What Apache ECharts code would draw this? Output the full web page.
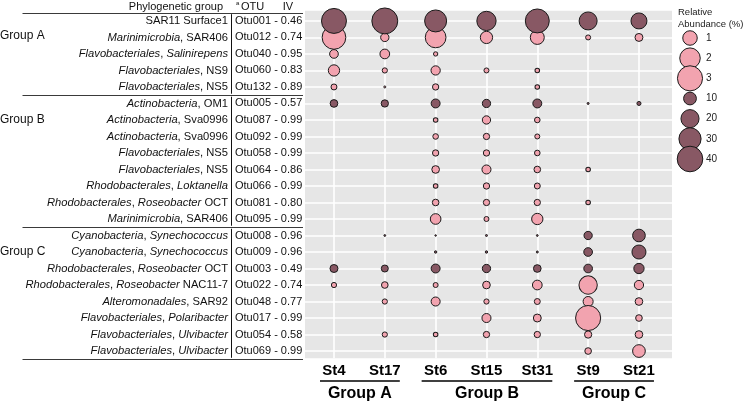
<!DOCTYPE html>
<html><head><meta charset="utf-8">
<script src="https://cdn.jsdelivr.net/npm/echarts@6/dist/echarts.min.js"></script>
<style>html,body{margin:0;padding:0;background:#fff}#c{width:743px;height:402px}</style>
</head><body><div id="c"></div>
<script>
// ---------- data ----------
const stations = ['St4','St17','St6','St15','St31','St9','St21'];
const stationGroups = ['Group A','Group A','Group B','Group B','Group B','Group C','Group C'];
const taxa = [
  'SAR11 Surface1',
  '*Marinimicrobia*, SAR406',
  '*Flavobacteriales*, *Salinirepens*',
  '*Flavobacteriales*, NS9',
  '*Flavobacteriales*, NS5',
  '*Actinobacteria*, OM1',
  '*Actinobacteria*, Sva0996',
  '*Actinobacteria*, Sva0996',
  '*Flavobacteriales*, NS5',
  '*Flavobacteriales*, NS5',
  '*Rhodobacterales*, *Loktanella*',
  '*Rhodobacterales*, *Roseobacter* OCT',
  '*Marinimicrobia*, SAR406',
  '*Cyanobacteria*, *Synechococcus*',
  '*Cyanobacteria*, *Synechococcus*',
  '*Rhodobacterales*, *Roseobacter* OCT',
  '*Rhodobacterales*, *Roseobacter* NAC11-7',
  '*Alteromonadales*, SAR92',
  '*Flavobacteriales*, *Polaribacter*',
  '*Flavobacteriales*, *Ulvibacter*',
  '*Flavobacteriales*, *Ulvibacter*'
];
const otus = ['Otu001','Otu012','Otu040','Otu060','Otu132','Otu005','Otu087','Otu092','Otu058','Otu064','Otu066','Otu081','Otu095','Otu008','Otu009','Otu003','Otu022','Otu048','Otu017','Otu054','Otu069'];
const iv = ['0.46','0.74','0.95','0.83','0.89','0.57','0.99','0.99','0.99','0.86','0.99','0.80','0.99','0.96','0.96','0.49','0.74','0.77','0.99','0.58','0.99'];
const rowGroups = ['Group A','Group A','Group A','Group A','Group A','Group B','Group B','Group B','Group B','Group B','Group B','Group B','Group B','Group C','Group C','Group C','Group C','Group C','Group C','Group C','Group C'];
const darkOtus = ['Otu001','Otu005','Otu008','Otu009','Otu003'];
// relative abundance (%) per OTU row, columns follow `stations`; null = absent
const abundanceGroupA = [
  [38, 41, 29.5, 22.7, 35, 19.8, 15.6],
  [2.67, 0.33, 2.04, 0.72, 0.93, 0.12, 0.30],
  [0.36, 0.45, 0.09, null, null, null, null],
  [0.61, 0.13, 0.41, 0.12, 0.10, null, null],
  [0.17, 0.02, 0.19, null, 0.10, null, null]
];
const abundanceGroupB = [
  [3.6, 3.25, 4.9, 4.2, 4.9, 0.25, 1.0],
  [null, null, 0.10, 0.33, 0.15, null, null],
  [null, null, 0.15, 0.19, 0.12, null, null],
  [null, null, 0.19, 0.19, 0.15, null, null],
  [null, null, 0.28, 0.39, 0.21, 0.10, null],
  [null, null, 0.10, 0.19, 0.17, null, null],
  [null, null, 0.21, 0.19, 0.19, 0.10, null],
  [null, null, 0.54, 0.12, 0.61, null, null]
];
const abundanceGroupC = [
  [null, 0.2, 0.15, 0.25, 0.2, 4.2, 9.8],
  [null, null, 0.35, 0.35, 0.25, 4.6, 12],
  [3.9, 3.0, 4.9, 4.2, 3.6, 4.6, 6.5],
  [0.13, 0.21, 0.12, 0.28, 0.45, 1.6, 0.41],
  [null, 0.13, 0.39, 0.13, 0.17, 0.48, 0.28],
  [null, null, null, 0.39, 0.30, 3.0, 0.21],
  [null, 0.13, 0.10, 0.19, 0.19, 0.25, 0.28],
  [null, null, null, null, null, 0.21, 0.77]
];
const legendPink = [1, 2, 3];
const legendDark = [10, 20, 30, 40];

// ---------- styling / layout ----------
const FONT = '"Liberation Sans", Arial, Helvetica, sans-serif';
const PINK = '#F2A3AF', DARK = '#885864', EDGE = '#1a1a1a';
const PANEL = {left: 305, top: 10.7, right: 672, bottom: 358.3};
const XMIN = -0.57, XMAX = 6.65, YMIN = -0.62, YMAX = 20.44;
const unitX = (PANEL.right - PANEL.left) / (XMAX - XMIN);
const unitY = (PANEL.bottom - PANEL.top) / (YMAX - YMIN);
const colPx = i => PANEL.left + (i - XMIN) * unitX;
const rowPx = r => PANEL.top + (r - YMIN) * unitY;
const pinkSize = v => 14.5 * Math.sqrt(v);
const darkSize = v => 4.05 * Math.sqrt(v);

const abundance = abundanceGroupA.concat(abundanceGroupB, abundanceGroupC);
const pinkData = [], darkData = [];
abundance.forEach((row, r) => {
  const dark = darkOtus.includes(otus[r]);
  row.forEach((v, c) => {
    if (v == null) return;
    (dark ? darkData : pinkData).push([c, r, v]);
  });
});
const legendCats = legendPink.concat(legendDark).map(String);

const gridLineData = stations.map((_, i) => ({xAxis: i})).concat(otus.map((_, i) => ({yAxis: i})));

const chart = echarts.init(document.getElementById('c'), null, {renderer: 'canvas'});
const hiddenAxis = {axisLine:{show:false}, axisTick:{show:false}, splitLine:{show:false}};

const option = {
  animation: false,
  textStyle: {fontFamily: FONT},
  grid: [
    {left: PANEL.left, top: PANEL.top, width: PANEL.right - PANEL.left, height: PANEL.bottom - PANEL.top,
     show: true, backgroundColor: '#E6E6E6', borderWidth: 0, containLabel: false},
    {left: colPx(0), top: rowPx(0), width: colPx(6) - colPx(0), height: rowPx(20) - rowPx(0), containLabel: false},
    {left: 680, top: 38, width: 20, height: 121, containLabel: false}
  ],
  xAxis: [
    {type: 'value', gridIndex: 0, min: XMIN, max: XMAX, show: false},
    {type: 'category', gridIndex: 1, data: stations, boundaryGap: false, position: 'bottom', ...hiddenAxis,
     axisLabel: {interval: 0, margin: 12, fontSize: 15, fontWeight: 'bold', color: '#000', fontFamily: FONT}},
    {type: 'value', gridIndex: 2, min: 0, max: 2, show: false}
  ],
  yAxis: [
    {type: 'value', gridIndex: 0, min: YMIN, max: YMAX, inverse: true, show: false},
    {type: 'category', gridIndex: 1, data: taxa, inverse: true, boundaryGap: false, position: 'left', ...hiddenAxis,
     axisLabel: {interval: 0, margin: colPx(0) - 228, fontSize: 11.2, color: '#111', fontFamily: FONT, align: 'right',
       formatter: s => s.replace(/\*([^*]+)\*/g, '{i|$1}'),
       rich: {i: {fontStyle: 'italic', fontSize: 11.2, color: '#111', fontFamily: FONT}}}},
    {type: 'category', gridIndex: 1, data: otus.map((o, i) => o + ' - ' + iv[i]), inverse: true, boundaryGap: false,
     position: 'left', offset: 0, ...hiddenAxis,
     axisLabel: {interval: 0, margin: colPx(0) - 235, fontSize: 11, color: '#111', fontFamily: FONT, align: 'left'}},
    {type: 'category', gridIndex: 2, data: legendCats, inverse: true, boundaryGap: false, position: 'right', ...hiddenAxis,
     axisLabel: {interval: 0, margin: 6, fontSize: 10, color: '#222', fontFamily: FONT, align: 'left'}}
  ],
  series: [
    {type: 'scatter', name: 'grid', xAxisIndex: 0, yAxisIndex: 0, data: [], z: 1, silent: true,
     markLine: {silent: true, z: 1, symbol: ['none', 'none'], label: {show: false}, animation: false,
       lineStyle: {color: '#ffffff', width: 1.6, type: 'solid'}, emphasis: {disabled: true}, data: gridLineData}},
    {type: 'scatter', name: 'pink', xAxisIndex: 0, yAxisIndex: 0, data: pinkData, z: 6,
     symbolSize: v => pinkSize(v[2]),
     itemStyle: {color: PINK, borderColor: EDGE, borderWidth: 1, opacity: 1}},
    {type: 'scatter', name: 'dark', xAxisIndex: 0, yAxisIndex: 0, data: darkData, z: 7,
     symbolSize: v => darkSize(v[2]),
     itemStyle: {color: DARK, borderColor: EDGE, borderWidth: 1, opacity: 1}},
    {type: 'scatter', name: 'legendPink', xAxisIndex: 2, yAxisIndex: 3, z: 6,
     data: legendPink.map(v => [1, String(v), v]), symbolSize: v => pinkSize(v[2]),
     itemStyle: {color: PINK, borderColor: EDGE, borderWidth: 1, opacity: 1}},
    {type: 'scatter', name: 'legendDark', xAxisIndex: 2, yAxisIndex: 3, z: 6,
     data: legendDark.map(v => [1, String(v), v]), symbolSize: v => darkSize(v[2]),
     itemStyle: {color: DARK, borderColor: EDGE, borderWidth: 1, opacity: 1}}
  ]
};
chart.setOption(option);

// ---------- decorations (table rules, group labels) ----------
const g = [];
const txt = (x, y, text, o) => g.push({type: 'text', x, y, silent: true,
  style: Object.assign({text, fontFamily: FONT, fontSize: 11, fill: '#111', align: 'left', verticalAlign: 'middle'}, o || {})});
const line = (x1, y1, x2, y2, stroke, w) => g.push({type: 'line', silent: true,
  shape: {x1, y1, x2, y2}, style: {stroke: stroke || '#333', lineWidth: w || 1}});

// header
txt(223, 6.5, 'Phylogenetic group', {align: 'right', fontSize: 11});
txt(236, 3.5, 'a', {fontSize: 6});
txt(241, 6.5, 'OTU', {fontSize: 11});
txt(288, 6.5, 'IV', {align: 'center', fontSize: 11});

// horizontal rules at group boundaries
const groupNames = ['Group A', 'Group B', 'Group C'];
const bounds = [-0.5];
groupNames.forEach(gn => { bounds.push(rowGroups.lastIndexOf(gn) + 0.5); });
bounds.forEach(b => line(22.5, Math.round(rowPx(b)) + 0.5, 303, Math.round(rowPx(b)) + 0.5, '#3a3a3a', 1));
// vertical rule between taxa and OTU
for (let k = 0; k < groupNames.length; k++) {
  line(231.5, rowPx(bounds[k]) + 1.5, 231.5, rowPx(bounds[k + 1]) - 1.5, '#111', 1);
}
// row group labels
const labelRow = {'Group A': 0.9, 'Group B': 6, 'Group C': 14};
groupNames.forEach(gn => txt(0, rowPx(labelRow[gn]), gn, {fontSize: 12}));

// station group underlines and labels
groupNames.forEach(gn => {
  const f = stationGroups.indexOf(gn), l = stationGroups.lastIndexOf(gn);
  const x1 = colPx(f) - 14, x2 = colPx(l) + 15;
  line(x1, 381, x2, 381, '#000', 1.5);
  txt((x1 + x2) / 2, 393.5, gn, {align: 'center', fontSize: 16, fontWeight: 'bold', fill: '#000'});
});

// legend title
txt(678, 12, 'Relative', {fontSize: 9.5, fill: '#222'});
txt(678, 24, 'Abundance (%)', {fontSize: 9.5, fill: '#222'});

chart.setOption({graphic: g});
</script></body></html>
